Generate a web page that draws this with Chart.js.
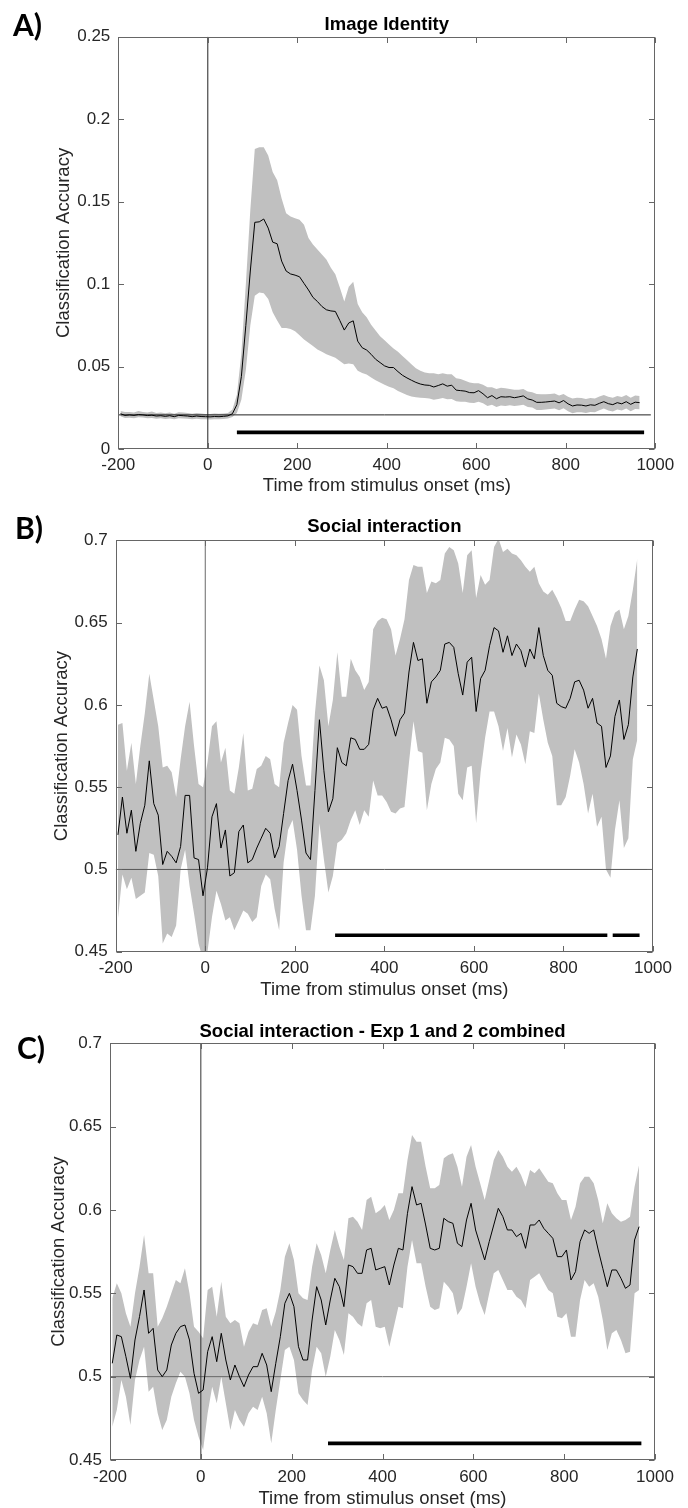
<!DOCTYPE html>
<html><head><meta charset="utf-8">
<script src="https://cdn.jsdelivr.net/npm/chart.js@4.4.0/dist/chart.umd.min.js"></script>
<style>
html,body{margin:0;padding:0;background:#fff;}
#wrap{position:relative;width:688px;height:1508px;overflow:hidden;background:#fff;}
canvas{position:absolute;left:0;}
.lab{position:absolute;font-family:Lato,'Open Sans',sans-serif;font-weight:700;font-size:30px;line-height:29px;color:#000;}
</style></head><body>
<div id="wrap">
<canvas id="cA" width="688" height="505" style="top:0px"></canvas>
<canvas id="cB" width="688" height="505" style="top:505px"></canvas>
<canvas id="cC" width="688" height="498" style="top:1010px"></canvas>
<div class="lab" style="left:13px;top:10px">A)</div>
<div class="lab" style="left:15px;top:513px">B)</div>
<div class="lab" style="left:17px;top:1033px">C)</div>
</div>
<script>
// ---------- DATA ----------
const timeMs = [
-195,-185,-175,-165,-155,-145,-135,-125,-115,-105,
-95,-85,-75,-65,-55,-45,-35,-25,-15,-5,
5,15,25,35,45,55,65,75,85,95,
105,115,125,135,145,155,165,175,185,195,
205,215,225,235,245,255,265,275,285,295,
305,315,325,335,345,355,365,375,385,395,
405,415,425,435,445,455,465,475,485,495,
505,515,525,535,545,555,565,575,585,595,
605,615,625,635,645,655,665,675,685,695,
705,715,725,735,745,755,765,775,785,795,
805,815,825,835,845,855,865,875,885,895,
905,915,925,935,945,955,965];

const xTickValues = [-200, 0, 200, 400, 600, 800, 1000];
const xTickLabels = ['-200', '0', '200', '400', '600', '800', '1000'];

// Panel A: Image Identity
const meanA = [
0.0215,0.0205,0.0208,0.0205,0.0210,0.0208,0.0204,0.0206,0.0201,0.0203,
0.0199,0.0203,0.0197,0.0205,0.0203,0.0201,0.0197,0.0201,0.0198,0.0197,
0.0196,0.0198,0.0197,0.0199,0.0202,0.0215,0.0270,0.0440,0.0750,0.1080,
0.1375,0.1378,0.1395,0.1340,0.1255,0.1245,0.1140,0.1080,0.1062,0.1055,
0.1045,0.1005,0.0965,0.0920,0.0895,0.0865,0.0845,0.0838,0.0835,0.0780,
0.0722,0.0765,0.0778,0.0655,0.0615,0.0601,0.0575,0.0545,0.0525,0.0505,
0.0495,0.0495,0.0470,0.0448,0.0432,0.0418,0.0405,0.0395,0.0389,0.0387,
0.0377,0.0386,0.0396,0.0382,0.0388,0.0358,0.0355,0.0352,0.0343,0.0342,
0.0355,0.0336,0.0312,0.0325,0.0306,0.0318,0.0316,0.0318,0.0312,0.0317,
0.0323,0.0305,0.0298,0.0284,0.0284,0.0286,0.0289,0.0292,0.0281,0.0295,
0.0275,0.0262,0.0268,0.0267,0.0262,0.0269,0.0266,0.0278,0.0288,0.0276,
0.0270,0.0282,0.0275,0.0288,0.0272,0.0285,0.0282];
const upperA = [
0.0232,0.0225,0.0226,0.0222,0.0232,0.0225,0.0222,0.0228,0.0219,0.0222,
0.0218,0.0222,0.0215,0.0224,0.0222,0.0219,0.0215,0.0219,0.0216,0.0214,
0.0213,0.0216,0.0215,0.0217,0.0220,0.0240,0.0330,0.0580,0.1000,0.1450,
0.1820,0.1830,0.1830,0.1780,0.1680,0.1630,0.1520,0.1430,0.1410,0.1400,
0.1390,0.1360,0.1280,0.1240,0.1210,0.1180,0.1150,0.1100,0.1060,0.0980,
0.0895,0.0985,0.1015,0.0880,0.0830,0.0800,0.0755,0.0720,0.0685,0.0660,
0.0635,0.0610,0.0590,0.0565,0.0540,0.0515,0.0490,0.0475,0.0465,0.0460,
0.0460,0.0455,0.0460,0.0455,0.0455,0.0430,0.0425,0.0415,0.0405,0.0400,
0.0400,0.0390,0.0375,0.0375,0.0365,0.0372,0.0370,0.0365,0.0360,0.0360,
0.0365,0.0350,0.0345,0.0335,0.0333,0.0333,0.0335,0.0338,0.0325,0.0335,
0.0318,0.0308,0.0312,0.0310,0.0305,0.0310,0.0308,0.0320,0.0328,0.0318,
0.0312,0.0322,0.0316,0.0328,0.0312,0.0325,0.0322];
const lowerA = [
0.0199,0.0189,0.0191,0.0188,0.0193,0.0192,0.0187,0.0189,0.0185,0.0187,
0.0183,0.0186,0.0181,0.0188,0.0186,0.0184,0.0181,0.0185,0.0182,0.0181,
0.0180,0.0182,0.0181,0.0183,0.0186,0.0195,0.0220,0.0300,0.0480,0.0750,
0.0930,0.0950,0.0945,0.0910,0.0830,0.0780,0.0735,0.0735,0.0728,0.0715,
0.0690,0.0665,0.0645,0.0625,0.0605,0.0590,0.0575,0.0565,0.0555,0.0535,
0.0515,0.0520,0.0515,0.0475,0.0462,0.0452,0.0435,0.0418,0.0405,0.0390,
0.0378,0.0370,0.0352,0.0340,0.0328,0.0320,0.0315,0.0312,0.0310,0.0308,
0.0300,0.0305,0.0310,0.0302,0.0305,0.0290,0.0288,0.0287,0.0282,0.0280,
0.0288,0.0278,0.0262,0.0270,0.0256,0.0265,0.0262,0.0266,0.0262,0.0265,
0.0270,0.0256,0.0252,0.0238,0.0238,0.0240,0.0243,0.0246,0.0236,0.0248,
0.0230,0.0218,0.0224,0.0224,0.0220,0.0226,0.0224,0.0236,0.0246,0.0234,
0.0228,0.0240,0.0234,0.0246,0.0230,0.0244,0.0242];
const chanceA = 0.0208;
const chanceSpanA = [-200, 990];
const sigA = [[65, 975]];
const sigLevelA = 0.0102;
const yTicksA = [0, 0.05, 0.1, 0.15, 0.2, 0.25];
const yTickLabelsA = ['0', '0.05', '0.1', '0.15', '0.2', '0.25'];

// Panel B: Social interaction
const meanB = [
0.521,0.544,0.522,0.536,0.511,0.528,0.539,0.566,0.540,0.533,
0.503,0.511,0.508,0.504,0.514,0.545,0.545,0.507,0.506,0.484,
0.501,0.532,0.540,0.513,0.524,0.496,0.498,0.523,0.527,0.504,
0.506,0.513,0.519,0.525,0.522,0.507,0.514,0.534,0.554,0.564,
0.548,0.530,0.510,0.506,0.548,0.591,0.560,0.535,0.543,0.574,
0.565,0.563,0.580,0.579,0.573,0.573,0.576,0.597,0.604,0.598,
0.599,0.591,0.581,0.591,0.595,0.620,0.638,0.627,0.628,0.601,
0.614,0.617,0.621,0.637,0.638,0.635,0.619,0.606,0.626,0.629,
0.596,0.616,0.621,0.636,0.647,0.645,0.632,0.642,0.630,0.637,
0.633,0.623,0.634,0.628,0.647,0.630,0.621,0.618,0.601,0.599,
0.598,0.604,0.614,0.615,0.609,0.598,0.604,0.589,0.587,0.562,
0.569,0.593,0.603,0.579,0.588,0.617,0.634];
const upperB = [
0.588,0.589,0.560,0.577,0.552,0.575,0.595,0.619,0.603,0.587,
0.562,0.563,0.559,0.544,0.567,0.587,0.602,0.575,0.552,0.550,
0.565,0.587,0.590,0.565,0.574,0.548,0.546,0.562,0.583,0.548,
0.549,0.561,0.563,0.569,0.567,0.552,0.550,0.577,0.589,0.600,
0.597,0.569,0.551,0.551,0.595,0.624,0.615,0.587,0.603,0.632,
0.605,0.605,0.628,0.621,0.617,0.609,0.614,0.646,0.651,0.653,
0.652,0.646,0.630,0.640,0.652,0.676,0.685,0.684,0.684,0.668,
0.675,0.674,0.676,0.692,0.696,0.694,0.686,0.668,0.691,0.694,
0.665,0.679,0.673,0.676,0.696,0.701,0.693,0.695,0.692,0.691,
0.688,0.684,0.681,0.684,0.674,0.669,0.667,0.670,0.665,0.659,
0.651,0.651,0.658,0.664,0.663,0.660,0.654,0.648,0.640,0.628,
0.648,0.656,0.658,0.646,0.654,0.670,0.689];
const lowerB = [
0.470,0.497,0.488,0.495,0.482,0.484,0.486,0.510,0.509,0.496,
0.455,0.461,0.459,0.466,0.500,0.512,0.490,0.473,0.455,0.445,
0.450,0.471,0.487,0.479,0.469,0.471,0.463,0.469,0.475,0.473,
0.468,0.471,0.490,0.497,0.494,0.476,0.463,0.504,0.524,0.530,
0.512,0.484,0.463,0.463,0.484,0.528,0.506,0.486,0.496,0.516,
0.518,0.522,0.530,0.536,0.527,0.536,0.532,0.554,0.545,0.545,
0.541,0.535,0.534,0.537,0.538,0.565,0.590,0.572,0.571,0.536,
0.552,0.561,0.565,0.580,0.579,0.575,0.546,0.542,0.562,0.563,
0.528,0.559,0.580,0.596,0.596,0.587,0.572,0.586,0.568,0.582,
0.576,0.564,0.584,0.583,0.607,0.591,0.577,0.569,0.539,0.539,
0.544,0.557,0.573,0.565,0.552,0.534,0.546,0.526,0.532,0.500,
0.495,0.524,0.542,0.513,0.519,0.567,0.579];
const chanceB = 0.5;
const chanceSpanB = [-200, 1000];
const sigB = [[290, 898], [910, 970]];
const sigLevelB = 0.46;
const yTicksB = [0.45, 0.5, 0.55, 0.6, 0.65, 0.7];
const yTickLabelsB = ['0.45', '0.5', '0.55', '0.6', '0.65', '0.7'];

// Panel C: Social interaction - Exp 1 and 2 combined
const meanC = [
0.508,0.525,0.524,0.512,0.499,0.522,0.536,0.552,0.526,0.529,
0.504,0.500,0.504,0.519,0.526,0.530,0.531,0.522,0.502,0.490,
0.492,0.515,0.524,0.509,0.526,0.510,0.498,0.507,0.500,0.494,
0.501,0.506,0.506,0.514,0.507,0.491,0.508,0.524,0.544,0.550,
0.542,0.518,0.510,0.510,0.534,0.554,0.546,0.531,0.546,0.559,
0.554,0.542,0.567,0.566,0.562,0.562,0.576,0.577,0.564,0.565,
0.566,0.555,0.567,0.577,0.576,0.598,0.614,0.603,0.604,0.591,
0.577,0.576,0.577,0.595,0.593,0.592,0.580,0.578,0.594,0.604,
0.588,0.579,0.570,0.581,0.591,0.601,0.596,0.588,0.588,0.584,
0.586,0.577,0.591,0.591,0.594,0.589,0.586,0.583,0.572,0.572,
0.576,0.558,0.563,0.581,0.588,0.586,0.588,0.576,0.565,0.554,
0.564,0.564,0.559,0.553,0.555,0.582,0.590];
const upperC = [
0.547,0.556,0.550,0.538,0.530,0.550,0.566,0.585,0.562,0.562,
0.530,0.535,0.542,0.550,0.558,0.556,0.565,0.550,0.530,0.527,
0.523,0.552,0.554,0.536,0.557,0.536,0.532,0.534,0.532,0.518,
0.527,0.532,0.531,0.540,0.541,0.530,0.539,0.552,0.572,0.580,
0.570,0.550,0.547,0.546,0.566,0.580,0.573,0.562,0.576,0.588,
0.578,0.570,0.595,0.596,0.593,0.588,0.606,0.608,0.598,0.600,
0.603,0.594,0.600,0.610,0.610,0.630,0.645,0.641,0.641,0.626,
0.613,0.613,0.615,0.631,0.633,0.634,0.626,0.614,0.632,0.639,
0.626,0.616,0.606,0.618,0.630,0.636,0.632,0.626,0.623,0.626,
0.621,0.614,0.624,0.622,0.625,0.621,0.617,0.616,0.610,0.606,
0.606,0.594,0.602,0.616,0.620,0.620,0.616,0.606,0.592,0.604,
0.598,0.595,0.593,0.594,0.596,0.614,0.627];
const lowerC = [
0.470,0.480,0.498,0.488,0.471,0.498,0.510,0.518,0.491,0.494,
0.478,0.468,0.474,0.488,0.496,0.503,0.500,0.490,0.474,0.464,
0.456,0.478,0.494,0.484,0.500,0.484,0.468,0.480,0.474,0.470,
0.478,0.482,0.480,0.488,0.478,0.460,0.480,0.498,0.516,0.518,
0.510,0.490,0.486,0.483,0.504,0.518,0.514,0.500,0.512,0.528,
0.522,0.513,0.538,0.536,0.532,0.530,0.544,0.546,0.530,0.529,
0.530,0.518,0.530,0.542,0.541,0.566,0.582,0.568,0.568,0.554,
0.542,0.540,0.541,0.557,0.554,0.550,0.537,0.541,0.554,0.568,
0.554,0.544,0.537,0.550,0.562,0.564,0.558,0.552,0.552,0.548,
0.546,0.541,0.558,0.560,0.562,0.557,0.552,0.550,0.536,0.535,
0.538,0.524,0.524,0.546,0.558,0.554,0.556,0.548,0.534,0.516,
0.526,0.528,0.522,0.514,0.515,0.550,0.552];
const chanceC = 0.5;
const chanceSpanC = [-200, 1000];
const sigC = [[280, 970]];
const sigLevelC = 0.46;
const yTicksC = [0.45, 0.5, 0.55, 0.6, 0.65, 0.7];
const yTickLabelsC = ['0.45', '0.5', '0.55', '0.6', '0.65', '0.7'];

// ---------- RENDERING ----------
const FONT = "'Liberation Sans', Arial, Helvetica, sans-serif";
Chart.defaults.font.family = FONT;

const boxPlugin = {
  id: 'matlabBox',
  afterDatasetsDraw(chart, args, opts) {
    const {ctx, chartArea: a, scales} = chart;
    const xs = scales.x, ys = scales.y;
    const L = Math.round(a.left) + 0.5, R = Math.round(a.right) - 0.5;
    const T = Math.round(a.top) + 0.5, B = Math.round(a.bottom) - 0.5;
    const tl = opts.tickLen;
    ctx.save();
    ctx.strokeStyle = opts.color;
    ctx.lineWidth = 1;
    ctx.beginPath();
    xs.ticks.forEach(t => {
      const px = Math.round(xs.getPixelForValue(t.value)) + 0.5;
      ctx.moveTo(px, B); ctx.lineTo(px, B - tl);
      ctx.moveTo(px, T); ctx.lineTo(px, T + tl);
    });
    ys.ticks.forEach(t => {
      const py = Math.round(ys.getPixelForValue(t.value)) + 0.5;
      ctx.moveTo(L, py); ctx.lineTo(L + tl, py);
      ctx.moveTo(R, py); ctx.lineTo(R - tl, py);
    });
    ctx.stroke();
    ctx.strokeRect(L, T, R - L, B - T);
    ctx.restore();
  }
};

function pts(t, v) { return t.map((x, i) => ({x: x, y: v[i]})); }

function makePanel(id, p) {
  const datasets = [];
  p.sig.forEach(s => datasets.push({
    data: [{x: s[0], y: p.sigLevel}, {x: s[1], y: p.sigLevel}],
    borderColor: '#000', borderWidth: 3.6, pointRadius: 0, fill: false, borderCapStyle: 'butt'
  }));
  datasets.push({data: pts(timeMs, p.mean), borderColor: '#000', borderWidth: 1, pointRadius: 0, fill: false, tension: 0});
  datasets.push({data: [{x: 0, y: p.yMin}, {x: 0, y: p.yMax}], borderColor: p.zeroColor, borderWidth: 1, pointRadius: 0, fill: false});
  datasets.push({data: [{x: p.chanceSpan[0], y: p.chance}, {x: p.chanceSpan[1], y: p.chance}], borderColor: p.chanceColor, borderWidth: 1, pointRadius: 0, fill: false});
  datasets.push({data: pts(timeMs, p.upper), borderColor: 'rgba(0,0,0,0)', borderWidth: 0, pointRadius: 0, backgroundColor: '#c0c0c0', fill: '+1', tension: 0});
  datasets.push({data: pts(timeMs, p.lower), borderColor: 'rgba(0,0,0,0)', borderWidth: 0, pointRadius: 0, fill: false, tension: 0});

  new Chart(document.getElementById(id), {
    type: 'line',
    data: {datasets: datasets},
    plugins: [boxPlugin],
    options: {
      responsive: false,
      animation: false,
      devicePixelRatio: 1,
      layout: {padding: {left: 0, top: 0, bottom: 0, right: p.padRight}},
      plugins: {
        legend: {display: false},
        tooltip: {enabled: false},
        title: {display: true, fullSize: false, text: p.title, color: '#000',
          font: {family: FONT, size: 18.5, weight: 'bold', lineHeight: 1.2},
          padding: {top: p.titlePadTop, bottom: p.titlePadBottom}},
        matlabBox: {color: '#666666', tickLen: 5.5}
      },
      scales: {
        x: {
          type: 'linear', position: 'bottom', min: -200, max: 1000,
          grid: {display: false, drawTicks: false},
          border: {display: false},
          afterBuildTicks: s => { s.ticks = xTickValues.map(v => ({value: v})); },
          afterFit: s => { s.height = p.xHeight; },
          ticks: {autoSkip: false, maxRotation: 0, padding: p.xTickPad, color: '#262626',
            font: {family: FONT, size: 17, lineHeight: 1.2},
            callback: v => xTickLabels[xTickValues.indexOf(v)]},
          title: {display: true, text: 'Time from stimulus onset (ms)', color: '#262626',
            font: {family: FONT, size: 18.5, lineHeight: 1}, padding: {top: 0, bottom: p.xTitlePad}}
        },
        y: {
          type: 'linear', position: 'left', min: p.yMin, max: p.yMax,
          grid: {display: false, drawTicks: false},
          border: {display: false},
          afterBuildTicks: s => { s.ticks = p.yTicks.map(v => ({value: v})); },
          afterFit: s => { s.width = p.yWidth; },
          ticks: {padding: 8, color: '#262626',
            font: {family: FONT, size: 17, lineHeight: 1.2},
            callback: v => p.yTickLabels[p.yTicks.indexOf(v)]},
          title: {display: true, text: 'Classification Accuracy', color: '#262626',
            font: {family: FONT, size: 18.5, lineHeight: 1}, padding: {top: p.yTitlePad, bottom: 0}}
        }
      }
    }
  });
}

makePanel('cA', {
  title: 'Image Identity', mean: meanA, upper: upperA, lower: lowerA,
  chance: chanceA, chanceSpan: chanceSpanA, sig: sigA, sigLevel: sigLevelA,
  yMin: 0, yMax: 0.25, yTicks: yTicksA, yTickLabels: yTickLabelsA,
  zeroColor: '#222', chanceColor: '#222',
  padRight: 32.7, titlePadTop: 13.4, titlePadBottom: 1.1,
  yWidth: 118.3, yTitlePad: 54.4, xHeight: 55.8, xTickPad: 6.3, xTitlePad: 9.75
});
makePanel('cB', {
  title: 'Social interaction', mean: meanB, upper: upperB, lower: lowerB,
  chance: chanceB, chanceSpan: chanceSpanB, sig: sigB, sigLevel: sigLevelB,
  yMin: 0.45, yMax: 0.7, yTicks: yTicksB, yTickLabels: yTickLabelsB,
  zeroColor: '#6a6a6a', chanceColor: '#555',
  padRight: 35, titlePadTop: 11.2, titlePadBottom: 2.0,
  yWidth: 115.7, yTitlePad: 52.8, xHeight: 58.3, xTickPad: 6.4, xTitlePad: 10.75
});
makePanel('cC', {
  title: 'Social interaction - Exp 1 and 2 combined', mean: meanC, upper: upperC, lower: lowerC,
  chance: chanceC, chanceSpan: chanceSpanC, sig: sigC, sigLevel: sigLevelC,
  yMin: 0.45, yMax: 0.7, yTicks: yTicksC, yTickLabels: yTickLabelsC,
  zeroColor: '#333', chanceColor: '#666',
  padRight: 33, titlePadTop: 10.6, titlePadBottom: 0.5,
  yWidth: 110, yTitlePad: 50, xHeight: 48, xTickPad: 7.1, xTitlePad: 0
});
</script>
</body></html>
